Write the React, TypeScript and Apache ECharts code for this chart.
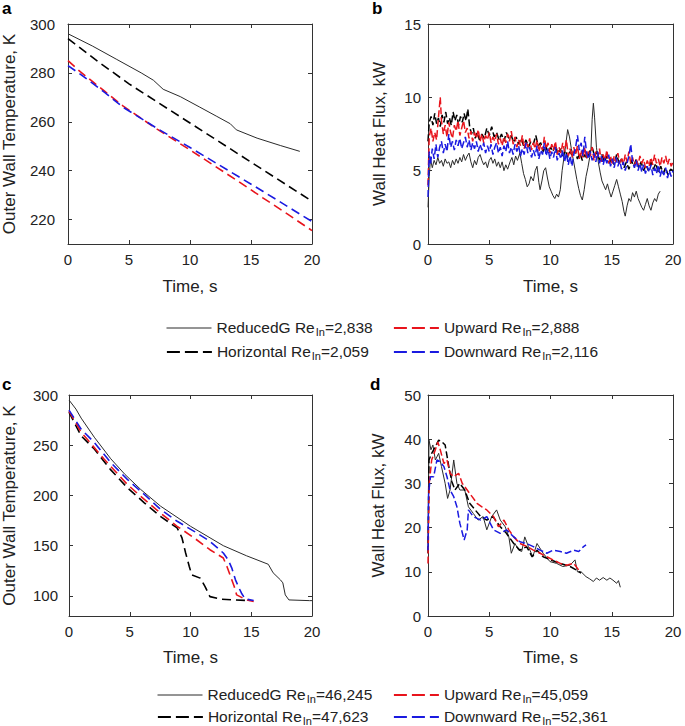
import React, { useEffect, useRef } from "react";
import * as echarts from "echarts";

const FONT = '"Liberation Sans", Arial, Helvetica, sans-serif';
const TEXT = "#222222";
const AXIS = "#333333";
const RED = "#e8141c";
const BLUE = "#1a1ae0";
const BLACK = "#000000";
const SOLID = "#2a2a2a";

// tick labels
const tempTicksA = [220, 240, 260, 280, 300];
const tempTicksC = [100, 150, 200, 250, 300];

// legend entries: [label, Re_In]
const legendTop = [
  ["ReducedG", "2,838"],
  ["Upward", "2,888"],
  ["Horizontal", "2,059"],
  ["Downward", "2,116"],
];
const legendBottom = [
  ["ReducedG", "46,245"],
  ["Upward", "45,059"],
  ["Horizontal", "47,623"],
  ["Downward", "52,361"],
];

// ---- panel a: outer wall temperature (K) vs time (s)
const aReducedG = [[0, 296], [2, 291], [4, 285.5], [6, 280], [7, 277], [7.8, 273.3], [9.2, 270.3], [10.8, 266], [12.2, 262.2], [13.3, 259.2], [13.8, 256.7], [15.5, 253.3], [17.4, 250.3], [19, 247.9]];
const aHorizontal = [[0, 294], [2.5, 284.5], [5, 275.5], [10, 259.5], [15, 243.5], [20, 227.5]];
const aUpward = [[0, 285], [1, 280.5], [2, 276.5], [3, 272.5], [4.5, 266.5], [7.3, 257], [10, 248.5], [12, 242], [14, 235.5], [16, 228.8], [18, 222.2], [20, 215.5]];
const aDownward = [[0, 283], [1, 279.5], [2, 275.8], [3, 272], [4.5, 266], [7.3, 257.3], [10, 249.5], [12, 243.5], [14, 237.5], [16, 231.5], [18, 225.3], [20, 219.2]];

// ---- panel b: wall heat flux (kW) vs time (s)
const bReducedG = [[0, 2.5], [0.1, 4.6], [0.2, 5.8], [0.35, 5.2], [0.5, 5.7], [0.65, 5.4], [0.8, 5.9], [0.95, 5.5], [1.1, 5.7], [1.25, 5.3], [1.4, 5.8], [1.55, 5.5], [1.7, 5.6], [1.85, 5.2], [2.0, 5.7], [2.15, 5.4], [2.3, 5.8], [2.45, 5.5], [2.6, 5.9], [2.75, 5.6], [2.9, 6.1], [3.05, 5.7], [3.2, 6.0], [3.35, 6.2], [3.5, 5.6], [3.65, 5.2], [3.8, 5.7], [3.95, 5.4], [4.1, 5.9], [4.25, 6.1], [4.4, 5.7], [4.55, 5.4], [4.7, 5.6], [4.85, 5.2], [5.0, 5.7], [5.15, 5.9], [5.3, 5.5], [5.45, 5.8], [5.6, 5.3], [5.75, 5.6], [5.9, 5.2], [6.05, 5.6], [6.2, 5.0], [6.35, 5.4], [6.5, 5.1], [6.7, 5.6], [6.85, 5.9], [7.0, 5.4], [7.15, 6.0], [7.3, 5.7], [7.5, 6.2], [7.65, 5.5], [7.8, 4.8], [7.95, 4.4], [8.1, 3.9], [8.25, 4.1], [8.4, 4.6], [8.6, 4.3], [8.75, 5.0], [8.9, 5.3], [9.05, 4.2], [9.15, 3.7], [9.3, 4.3], [9.45, 5.0], [9.6, 5.2], [9.75, 4.5], [9.9, 3.9], [10.05, 3.6], [10.2, 3.3], [10.35, 3.1], [10.5, 3.4], [10.65, 3.2], [10.8, 3.7], [10.95, 5.0], [11.1, 5.9], [11.25, 6.8], [11.4, 7.8], [11.55, 7.3], [11.7, 6.5], [11.85, 5.8], [12.0, 5.1], [12.15, 4.4], [12.3, 3.8], [12.45, 3.3], [12.6, 3.0], [12.75, 3.7], [12.9, 4.6], [13.05, 5.2], [13.2, 5.9], [13.3, 6.4], [13.4, 8.5], [13.5, 9.6], [13.6, 8.6], [13.75, 6.6], [13.9, 5.6], [14.05, 4.9], [14.2, 4.3], [14.35, 4.0], [14.5, 3.7], [14.65, 4.1], [14.8, 3.6], [14.95, 3.2], [15.1, 3.6], [15.25, 4.0], [15.4, 4.4], [15.55, 3.9], [15.7, 3.4], [15.85, 2.9], [16.0, 2.2], [16.1, 1.9], [16.25, 2.6], [16.4, 3.1], [16.55, 2.9], [16.7, 3.5], [16.85, 3.2], [17.0, 3.6], [17.15, 3.1], [17.3, 2.8], [17.45, 2.5], [17.6, 2.3], [17.75, 2.7], [17.9, 3.1], [18.05, 2.6], [18.2, 2.3], [18.35, 2.8], [18.5, 3.1], [18.65, 2.9], [18.8, 3.4], [18.95, 3.6]];
const bHorizontal = [[0, 7.0], [0.1, 8.3], [0.25, 8.7], [0.4, 8.1], [0.55, 8.9], [0.7, 8.2], [0.85, 8.6], [1.0, 8.0], [1.15, 8.8], [1.3, 8.3], [1.45, 9.0], [1.6, 8.2], [1.75, 8.6], [1.9, 8.1], [2.05, 9.0], [2.2, 8.4], [2.35, 8.8], [2.5, 8.1], [2.65, 8.7], [2.8, 8.3], [2.95, 8.9], [3.1, 8.4], [3.25, 9.2], [3.4, 8.0], [3.55, 7.5], [3.7, 7.9], [3.85, 7.2], [4.0, 7.6], [4.2, 7.1], [4.4, 7.5], [4.6, 7.2], [4.8, 7.9], [5.0, 7.4], [5.2, 8.0], [5.4, 7.3], [5.6, 7.6], [5.8, 7.1], [6.0, 7.5], [6.2, 7.0], [6.4, 7.6], [6.6, 7.2], [6.8, 7.4], [7.0, 6.9], [7.2, 7.3], [7.4, 6.8], [7.6, 7.2], [7.8, 6.7], [8.0, 7.1], [8.2, 6.6], [8.4, 7.0], [8.6, 6.8], [8.8, 7.4], [9.0, 6.7], [9.2, 6.9], [9.4, 6.3], [9.6, 6.7], [9.8, 6.2], [10.0, 6.6], [10.2, 6.3], [10.4, 6.8], [10.6, 6.1], [10.8, 6.5], [11.0, 6.0], [11.2, 6.4], [11.4, 5.9], [11.6, 6.3], [11.8, 6.0], [12.0, 6.4], [12.2, 5.8], [12.4, 6.2], [12.6, 5.7], [12.8, 6.1], [13.0, 5.8], [13.2, 6.3], [13.4, 6.6], [13.6, 6.0], [13.8, 6.3], [14.0, 5.7], [14.2, 6.1], [14.4, 5.6], [14.6, 6.0], [14.8, 5.5], [15.0, 5.9], [15.2, 5.4], [15.4, 6.1], [15.6, 5.5], [15.8, 5.8], [16.0, 5.2], [16.2, 5.6], [16.4, 5.1], [16.6, 5.7], [16.8, 5.3], [17.0, 5.8], [17.2, 5.2], [17.4, 5.6], [17.6, 5.0], [17.8, 5.4], [18.0, 5.0], [18.2, 5.6], [18.4, 5.1], [18.6, 5.5], [18.8, 4.9], [19.0, 5.3], [19.2, 4.8], [19.4, 5.2], [19.6, 4.7], [19.8, 5.1], [20, 5.0]];
const bUpward = [[0, 4.0], [0.1, 7.3], [0.25, 7.9], [0.4, 7.0], [0.55, 7.6], [0.7, 7.1], [0.85, 8.6], [1.0, 10.0], [1.1, 8.4], [1.25, 7.5], [1.4, 8.1], [1.55, 7.3], [1.7, 8.3], [1.85, 7.6], [2.0, 7.2], [2.15, 8.1], [2.3, 7.7], [2.45, 8.4], [2.6, 7.4], [2.75, 7.9], [2.9, 8.4], [3.05, 7.6], [3.2, 7.9], [3.35, 7.2], [3.5, 7.7], [3.65, 7.0], [3.8, 7.6], [3.95, 7.2], [4.1, 7.8], [4.25, 7.0], [4.4, 7.5], [4.55, 6.9], [4.7, 7.4], [4.85, 7.1], [5.0, 7.6], [5.15, 6.9], [5.3, 7.3], [5.45, 7.0], [5.6, 7.5], [5.75, 6.8], [5.9, 7.2], [6.05, 6.7], [6.2, 7.3], [6.35, 6.9], [6.5, 7.5], [6.65, 7.0], [6.8, 7.7], [6.95, 6.8], [7.1, 7.3], [7.25, 6.6], [7.4, 7.1], [7.55, 6.7], [7.7, 7.4], [7.85, 6.5], [8.0, 7.0], [8.15, 6.6], [8.3, 7.2], [8.45, 6.4], [8.6, 6.9], [8.75, 6.5], [8.9, 7.1], [9.05, 6.3], [9.2, 6.8], [9.35, 6.4], [9.5, 7.3], [9.65, 6.5], [9.8, 6.9], [9.95, 6.2], [10.1, 6.8], [10.25, 6.4], [10.4, 7.0], [10.55, 6.1], [10.7, 6.6], [10.85, 6.2], [11.0, 6.9], [11.15, 6.3], [11.3, 7.1], [11.45, 6.0], [11.6, 6.5], [11.75, 5.9], [11.9, 6.6], [12.05, 6.1], [12.2, 6.7], [12.35, 5.8], [12.5, 6.4], [12.65, 5.9], [12.8, 6.6], [12.95, 5.8], [13.1, 6.4], [13.25, 6.0], [13.4, 6.6], [13.55, 5.7], [13.7, 6.3], [13.85, 5.9], [14.0, 6.5], [14.15, 5.6], [14.3, 6.1], [14.45, 5.7], [14.6, 6.4], [14.75, 5.5], [14.9, 6.0], [15.05, 5.4], [15.2, 6.0], [15.35, 5.6], [15.5, 6.2], [15.65, 5.5], [15.8, 5.9], [15.95, 5.4], [16.1, 6.1], [16.25, 5.6], [16.4, 6.3], [16.55, 5.5], [16.7, 5.9], [16.85, 5.3], [17.0, 5.8], [17.15, 5.4], [17.3, 6.0], [17.45, 5.5], [17.6, 5.8], [17.75, 5.2], [17.9, 5.7], [18.05, 5.3], [18.2, 5.9], [18.35, 5.4], [18.5, 6.1], [18.65, 5.5], [18.8, 5.8], [18.95, 5.3], [19.1, 5.9], [19.25, 5.5], [19.4, 6.0], [19.55, 5.4], [19.7, 5.8], [19.85, 5.3], [20, 5.6]];
const bDownward = [[0, 3.2], [0.1, 6.3], [0.2, 5.4], [0.35, 6.5], [0.5, 5.8], [0.65, 6.8], [0.8, 5.9], [0.95, 6.6], [1.1, 7.0], [1.25, 6.2], [1.4, 6.8], [1.55, 6.3], [1.7, 7.5], [1.85, 6.6], [2.0, 7.0], [2.15, 6.4], [2.3, 7.1], [2.45, 6.7], [2.6, 7.2], [2.75, 6.5], [2.9, 6.9], [3.05, 7.3], [3.2, 6.6], [3.35, 7.1], [3.5, 6.4], [3.65, 6.9], [3.8, 6.5], [3.95, 7.0], [4.1, 6.3], [4.25, 6.8], [4.4, 6.4], [4.55, 6.9], [4.7, 6.2], [4.85, 6.7], [5.0, 6.3], [5.15, 6.8], [5.3, 6.1], [5.45, 6.6], [5.6, 6.9], [5.75, 6.2], [5.9, 6.6], [6.05, 6.0], [6.2, 6.7], [6.35, 6.3], [6.5, 7.0], [6.65, 6.2], [6.8, 6.6], [6.95, 6.1], [7.1, 6.8], [7.25, 6.3], [7.4, 6.7], [7.55, 6.0], [7.7, 6.5], [7.85, 6.1], [8.0, 6.9], [8.15, 6.2], [8.3, 6.6], [8.45, 5.9], [8.6, 6.4], [8.75, 6.0], [8.9, 6.7], [9.05, 5.8], [9.2, 6.4], [9.35, 6.1], [9.5, 6.9], [9.65, 6.0], [9.8, 6.5], [9.95, 5.8], [10.1, 6.3], [10.25, 5.9], [10.4, 6.6], [10.55, 5.7], [10.7, 6.2], [10.85, 5.8], [11.0, 6.4], [11.15, 5.6], [11.3, 6.2], [11.45, 5.4], [11.6, 6.0], [11.75, 5.3], [11.9, 6.1], [12.05, 6.6], [12.2, 7.4], [12.35, 6.4], [12.5, 6.9], [12.65, 6.0], [12.8, 7.3], [12.95, 6.2], [13.1, 5.8], [13.25, 6.3], [13.4, 5.7], [13.55, 6.2], [13.7, 5.6], [13.85, 6.3], [14.0, 5.5], [14.15, 6.0], [14.3, 5.4], [14.45, 5.9], [14.6, 5.5], [14.75, 6.1], [14.9, 5.3], [15.05, 5.8], [15.2, 5.2], [15.35, 5.9], [15.5, 5.3], [15.65, 5.7], [15.8, 5.1], [15.95, 5.6], [16.1, 5.0], [16.25, 5.5], [16.4, 6.0], [16.55, 6.8], [16.7, 5.6], [16.85, 5.2], [17.0, 5.7], [17.15, 5.0], [17.3, 5.5], [17.45, 4.9], [17.6, 5.4], [17.75, 4.8], [17.9, 5.3], [18.05, 4.9], [18.2, 5.4], [18.35, 4.7], [18.5, 5.2], [18.65, 4.8], [18.8, 5.4], [18.95, 4.6], [19.1, 5.1], [19.25, 4.7], [19.4, 5.2], [19.55, 4.5], [19.7, 5.0], [19.85, 4.6], [20, 5.0]];

// ---- panel c: outer wall temperature (K) vs time (s)
const cReducedG = [[0, 295], [0.57, 286], [1, 277], [2.08, 258], [3.44, 236.5], [4.6, 221], [5.9, 206], [7.54, 189.3], [10, 169.3], [12.7, 150], [14.6, 140], [16.4, 131.5], [16.8, 123], [17.4, 116], [17.6, 113], [17.8, 101], [18.1, 96], [19.8, 95.3], [20, 95.3]];
const cHorizontal = [[0, 283], [1, 259.3], [2.1, 246], [3.4, 226], [4.8, 207.7], [6.2, 192.7], [7.5, 179.3], [8.9, 167.7], [9.1, 163], [9.3, 157.7], [9.6, 142.7], [9.9, 129.3], [10.1, 121], [10.8, 117.7], [11.2, 109.3], [11.6, 99.3], [12.5, 96.7], [13.6, 96], [14.9, 95.3]];
const cUpward = [[0, 284], [1, 263], [2.9, 236], [4.8, 211], [6.2, 196], [7.5, 182.7], [8.9, 169.3], [10.3, 157.7], [11.6, 146], [12.7, 137.7], [13, 129.3], [13.3, 119.3], [13.6, 109.3], [13.8, 101], [14.6, 96], [15.2, 94.5]];
const cDownward = [[0, 285], [1, 266], [2.08, 252.7], [3.44, 232.7], [4.8, 216], [6.2, 201], [7.54, 186], [8.9, 174.3], [10.3, 164.3], [11.6, 154.3], [12.7, 142.7], [13.1, 136], [13.4, 127.7], [13.7, 116], [14, 107.7], [14.2, 102.7], [14.5, 97], [15.2, 95.5]];

// ---- panel d: wall heat flux (kW) vs time (s)
const dReducedG = [[0, 14.9], [0.08, 39.8], [0.24, 37.6], [0.4, 38.7], [0.6, 35.3], [0.87, 36.8], [1.1, 33.8], [1.4, 30], [1.6, 26.6], [1.8, 28.5], [2.1, 35.3], [2.36, 30], [2.6, 28.5], [3.0, 28.5], [3.3, 24.7], [3.7, 23.2], [4.1, 21.7], [4.5, 22.5], [4.8, 19.5], [5.2, 22.5], [5.6, 24.0], [5.9, 21.7], [6.3, 20.2], [6.6, 17.9], [6.8, 14.2], [7.1, 16.4], [7.4, 14.9], [7.65, 14.6], [7.9, 17.9], [8.2, 15.7], [8.55, 13.4], [8.9, 16.4], [9.4, 14.2], [9.96, 12.3], [10.5, 11.9], [11.0, 11.2], [11.6, 11.5], [12.0, 12.7], [12.2, 10.0], [12.5, 10.0], [12.9, 8.9], [13.2, 8.4], [13.5, 7.8], [13.75, 8.6], [14.0, 8.1], [14.3, 8.7], [14.6, 8.1], [14.85, 8.6], [15.1, 8.1], [15.4, 7.4], [15.55, 8.0], [15.7, 6.5]];
const dHorizontal = [[0, 14.2], [0.08, 35.3], [0.3, 36.8], [0.6, 38.3], [0.87, 39.8], [1.14, 39.4], [1.4, 38.7], [1.7, 33.8], [1.95, 30.4], [2.2, 28.5], [2.6, 30], [3.0, 28.5], [3.4, 25.5], [3.85, 24], [4.3, 22.5], [4.8, 21.7], [5.3, 22.5], [5.9, 20.2], [6.4, 18.7], [7.0, 16.4], [7.5, 14.9], [8.05, 15.7], [8.5, 13.4], [8.9, 14.9], [9.4, 13.4], [10.0, 12.7], [10.8, 11.9], [11.6, 11.2], [12.1, 10.4], [12.5, 9.7]];
const dUpward = [[0, 11.9], [0.1, 30], [0.3, 35.3], [0.6, 37.6], [0.8, 39.4], [1.0, 37.6], [1.3, 34.5], [1.55, 35.3], [1.8, 32.3], [2.1, 31.5], [2.5, 32.3], [2.8, 30], [3.2, 28.5], [3.6, 27], [4.0, 25.5], [4.4, 24.7], [4.8, 24], [5.35, 22.5], [5.75, 20.2], [6.2, 21.7], [6.6, 19.5], [7.0, 17.9], [7.5, 16.4], [8.1, 15.7], [8.6, 14.9], [9.15, 14.2], [9.7, 13.4], [10.2, 12.7], [10.8, 11.9], [11.3, 11.5], [11.9, 11.9], [12.3, 10.4]];
const dDownward = [[0, 14.9], [0.05, 27.8], [0.2, 31.5], [0.46, 31.5], [0.73, 35.3], [1.0, 34.9], [1.3, 33.8], [1.55, 31.5], [1.8, 28.5], [2.1, 27], [2.36, 24.7], [2.6, 21], [2.95, 17.2], [3.2, 19.5], [3.3, 24], [3.7, 22.5], [4.3, 21.7], [4.8, 22.5], [5.35, 19.5], [5.9, 18.7], [6.4, 19.5], [7.0, 17.9], [7.5, 16.8], [8.05, 16.4], [8.6, 15.7], [9.15, 14.9], [9.7, 14.2], [10.2, 14.9], [10.8, 14.6], [11.3, 14.2], [11.9, 14.9], [12.3, 14.6], [12.7, 15.7], [12.9, 16.1]];

const seriesName = (e: string[]) => `${e[0]} Re_In=${e[1]}`;

function xAxes(gridIndex: number, nameGap: number) {
  const line = { show: true, onZero: false, lineStyle: { color: AXIS, width: 1 } };
  const tick = { show: true, inside: true, length: 4, lineStyle: { color: AXIS, width: 1 } };
  return [
    {
      type: "value", gridIndex, position: "bottom", min: 0, max: 20, interval: 5,
      name: "Time, s", nameLocation: "middle", nameGap,
      nameTextStyle: { color: TEXT, fontFamily: FONT, fontSize: 17 },
      axisLine: line, axisTick: tick,
      axisLabel: { color: TEXT, fontFamily: FONT, fontSize: 15, margin: 8 },
      splitLine: { show: false },
    },
    {
      type: "value", gridIndex, position: "top", min: 0, max: 20, interval: 5,
      axisLine: line, axisTick: tick, axisLabel: { show: false }, splitLine: { show: false },
    },
  ];
}

function yAxes(gridIndex: number, min: number, max: number, interval: number, ticks: number[] | null, name: string, nameGap: number, margin: number) {
  const line = { show: true, onZero: false, lineStyle: { color: AXIS, width: 1 } };
  const tick: any = { show: true, inside: true, length: 4, lineStyle: { color: AXIS, width: 1 } };
  if (ticks) tick.customValues = ticks;
  const label: any = { color: TEXT, fontFamily: FONT, fontSize: 15, margin };
  if (ticks) label.customValues = ticks;
  return [
    {
      type: "value", gridIndex, position: "left", min, max, interval,
      name, nameLocation: "middle", nameGap,
      nameTextStyle: { color: TEXT, fontFamily: FONT, fontSize: 17 },
      axisLine: line, axisTick: tick, axisLabel: label, splitLine: { show: false },
    },
    {
      type: "value", gridIndex, position: "right", min, max, interval,
      axisLine: line, axisTick: tick, axisLabel: { show: false, customValues: ticks || undefined }, splitLine: { show: false },
    },
  ];
}

function mk(name: string, data: number[][], panel: number, color: string, dashed: boolean, width: number, dash: number[]) {
  return {
    type: "line", name, data, xAxisIndex: panel * 2, yAxisIndex: panel * 2,
    showSymbol: false, symbol: "none", silent: true,
    lineStyle: { color, width, type: dashed ? dash : "solid" },
    itemStyle: { color },
    emphasis: { disabled: true },
  };
}

function panelSeries(panel: number, names: string[][], data: number[][][], dash: number[], lw: number) {
  return [
    mk(seriesName(names[0]), data[0], panel, SOLID, false, 1, dash),
    mk(seriesName(names[2]), data[2], panel, BLACK, true, lw, dash),
    mk(seriesName(names[1]), data[1], panel, RED, true, lw, dash),
    mk(seriesName(names[3]), data[3], panel, BLUE, true, lw, dash),
  ];
}

function legendItem(entry: string[], left: number, top: number, color: string, dashed: boolean) {
  return {
    show: true, data: [seriesName(entry)], left, top, orient: "horizontal",
    padding: 0, itemWidth: 45, itemHeight: 14, selectedMode: false,
    lineStyle: { type: dashed ? [13, 5] : "solid", width: dashed ? 1.8 : 1, color },
    itemStyle: { opacity: 0 },
    formatter: () => `{m|${entry[0]} Re}{s|In}{m|=${entry[1]}}`,
    textStyle: {
      color: TEXT, fontFamily: FONT,
      rich: {
        m: { fontSize: 15.5, fontFamily: FONT, color: TEXT, lineHeight: 18, verticalAlign: "top" },
        s: { fontSize: 11, fontFamily: FONT, color: TEXT, lineHeight: 12, verticalAlign: "bottom", padding: [12, 0, 0, 1] },
      },
    },
  };
}

export default function App() {
  const ref = useRef<HTMLDivElement>(null);
  useEffect(() => {
    if (!ref.current) return;
    const chart = echarts.init(ref.current, null, { renderer: "svg" });
    const option: any = {
      animation: false,
      backgroundColor: "#ffffff",
      grid: [
        { left: 68, top: 24, width: 244, height: 220 },
        { left: 428, top: 24, width: 245, height: 220 },
        { left: 68, top: 395, width: 244, height: 221 },
        { left: 428, top: 395, width: 245, height: 221 },
      ],
      xAxis: [...xAxes(0, 34), ...xAxes(1, 34), ...xAxes(2, 33), ...xAxes(3, 33)],
      yAxis: [
        ...yAxes(0, 210, 300, 10, tempTicksA, "Outer Wall Temperature, K", 50, 13),
        ...yAxes(1, 0, 15, 5, null, "Wall Heat Flux, kW", 40, 7),
        ...yAxes(2, 80, 300, 10, tempTicksC, "Outer Wall Temperature, K", 51, 11),
        ...yAxes(3, 0, 50, 10, null, "Wall Heat Flux, kW", 41, 7),
      ],
      legend: [
        legendItem(legendTop[0], 166, 314, SOLID, false),
        legendItem(legendTop[1], 393, 314, RED, true),
        legendItem(legendTop[2], 166, 338, BLACK, true),
        legendItem(legendTop[3], 393, 338, BLUE, true),
        legendItem(legendBottom[0], 157, 681, SOLID, false),
        legendItem(legendBottom[1], 393, 681, RED, true),
        legendItem(legendBottom[2], 157, 703, BLACK, true),
        legendItem(legendBottom[3], 393, 703, BLUE, true),
      ],
      graphic: [
        { type: "text", left: 2, top: 0, style: { text: "a", font: `bold 17px ${FONT}`, fill: "#000" } },
        { type: "text", left: 372, top: 0, style: { text: "b", font: `bold 17px ${FONT}`, fill: "#000" } },
        { type: "text", left: 2, top: 376, style: { text: "c", font: `bold 17px ${FONT}`, fill: "#000" } },
        { type: "text", left: 370, top: 376, style: { text: "d", font: `bold 17px ${FONT}`, fill: "#000" } },
      ],
      series: [
        ...panelSeries(0, legendTop, [aReducedG, aUpward, aHorizontal, aDownward], [9, 5], 1.6),
        ...panelSeries(1, legendTop, [bReducedG, bUpward, bHorizontal, bDownward], [7, 3], 1.5),
        ...panelSeries(2, legendBottom, [cReducedG, cUpward, cHorizontal, cDownward], [9, 5], 1.6),
        ...panelSeries(3, legendBottom, [dReducedG, dUpward, dHorizontal, dDownward], [7, 3], 1.5),
      ],
    };
    chart.setOption(option);
    return () => chart.dispose();
  }, []);
  return (
    <div
      ref={ref}
      style={{ position: "fixed", left: 0, top: 0, width: 685, height: 726, background: "#fff" }}
    />
  );
}
